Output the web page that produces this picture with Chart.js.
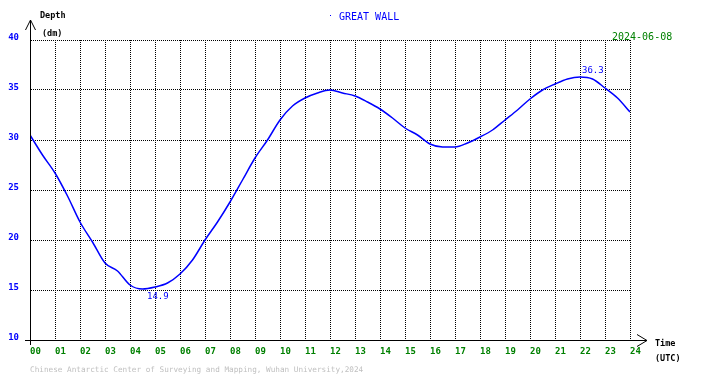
<!DOCTYPE html>
<html>
<head>
<meta charset="utf-8">
<script src="https://cdn.jsdelivr.net/npm/chart.js@4"></script>
<style>
  html, body { margin: 0; padding: 0; background: #fff; }
  #wrap { width: 710px; height: 378px; position: relative; }
</style>
</head>
<body>
<div id="wrap"><canvas id="tide"></canvas></div>
<script>
// tide gauge readings, every half hour
const hours = [0, 0.5, 1, 1.5, 2, 2.5, 3, 3.5, 4, 4.5, 5, 5.5, 6, 6.5, 7, 7.5, 8, 8.5,
  9, 9.5, 10, 10.5, 11, 11.5, 12, 12.5, 13, 13.5, 14, 14.5, 15, 15.5, 16, 16.5, 17,
  17.5, 18, 18.5, 19, 19.5, 20, 20.5, 21, 21.5, 22, 22.5, 23, 23.5, 24];
const depth = [30.5, 28.5, 26.7, 24.4, 21.8, 19.8, 17.7, 16.9, 15.5, 15.1, 15.3, 15.7,
  16.6, 18.0, 20.0, 21.8, 23.8, 26.0, 28.2, 30.0, 32.0, 33.4, 34.2, 34.7, 35.0, 34.7,
  34.4, 33.8, 33.1, 32.2, 31.2, 30.5, 29.6, 29.3, 29.3, 29.7, 30.3, 31.0, 32.0, 33.0,
  34.1, 35.0, 35.6, 36.1, 36.3, 36.1, 35.2, 34.2, 32.8];

// low / high water marks printed on the chart
const extremeHours = [4.6, 22.0];
const extremeValues = [14.9, 36.3];
const extremeBelow = [true, false];

const stationName = "GREAT WALL";
const dateLabel = "2024-06-08";
const footer = "Chinese Antarctic Center of Surveying and Mapping, Wuhan University,2024";

const BLUE = "rgb(0,0,255)";
const GREEN = "rgb(0,128,0)";
const MONO = "'DejaVu Sans Mono', monospace";

// axis arrows, labels and extreme values
const decorations = {
  id: "decorations",
  afterDraw(chart) {
    const { ctx, chartArea: a, scales } = chart;
    ctx.save();
    ctx.strokeStyle = "#000";
    ctx.lineWidth = 1;
    ctx.beginPath();
    // y axis extension + arrow
    ctx.moveTo(a.left + 0.5, a.bottom + 5);
    ctx.lineTo(a.left + 0.5, 20);
    ctx.moveTo(a.left - 4.5, 30);
    ctx.lineTo(a.left + 0.5, 20);
    ctx.lineTo(a.left + 5.5, 30);
    // x axis extension + arrow
    ctx.moveTo(a.left - 5, a.bottom + 0.5);
    ctx.lineTo(a.right + 17, a.bottom + 0.5);
    ctx.moveTo(a.right + 7, a.bottom - 5.5);
    ctx.lineTo(a.right + 17, a.bottom + 0.5);
    ctx.lineTo(a.right + 7, a.bottom + 6.5);
    ctx.stroke();

    ctx.textBaseline = "middle";
    ctx.textAlign = "left";
    ctx.fillStyle = "#000";
    ctx.font = "bold 8.5px " + MONO;
    ctx.fillText("Depth", 40, 16);
    ctx.fillText("(dm)", 42, 34);
    ctx.fillText("Time", 655, 344);
    ctx.fillText("(UTC)", 655, 359);

    ctx.fillStyle = BLUE;
    ctx.font = "10px " + MONO;
    ctx.fillText(stationName, 339, 17);
    ctx.fillRect(330, 15, 1, 1);

    ctx.fillStyle = GREEN;
    ctx.font = "10px " + MONO;
    ctx.fillText(dateLabel, 612, 37);

    ctx.fillStyle = "rgb(192,192,192)";
    ctx.font = "7.7px " + MONO;
    ctx.fillText(footer, 30, 370);

    ctx.fillStyle = BLUE;
    ctx.font = "9px " + MONO;
    extremeHours.forEach((h, i) => {
      const px = scales.x.getPixelForValue(h);
      const py = scales.y.getPixelForValue(extremeValues[i]);
      ctx.fillText(extremeValues[i].toFixed(1), px + 2, extremeBelow[i] ? py + 6 : py - 6);
    });
    ctx.restore();
  }
};

new Chart(document.getElementById("tide"), {
  type: "line",
  data: {
    labels: hours,
    datasets: [{
      data: hours.map((h, i) => ({ x: h, y: depth[i] })),
      borderColor: BLUE,
      borderWidth: 1.5,
      pointRadius: 0,
      fill: false,
      cubicInterpolationMode: "monotone"
    }]
  },
  options: {
    responsive: true,
    maintainAspectRatio: false,
    animation: false,
    layout: { padding: { left: 0, right: 80, top: 40, bottom: 0 } },
    plugins: {
      legend: { display: false },
      tooltip: { enabled: false }
    },
    scales: {
      x: {
        type: "linear",
        min: 0,
        max: 24,
        afterFit: (s) => { s.height = 38; },
        ticks: {
          stepSize: 1,
          autoSkip: false,
          maxRotation: 0,
          align: "start",
          padding: 6,
          color: GREEN,
          font: { family: MONO, size: 9, weight: "bold" },
          callback: (v) => String(v).padStart(2, "0")
        },
        grid: { color: "#000", lineWidth: 1, drawTicks: false },
        border: { color: "#000", width: 1, dash: [1, 1] }
      },
      y: {
        min: 10,
        max: 40,
        afterFit: (s) => { s.width = 30; },
        ticks: {
          stepSize: 5,
          padding: 11,
          labelOffset: -2,
          color: BLUE,
          font: { family: MONO, size: 9, weight: "bold" }
        },
        grid: { color: "#000", lineWidth: 1, drawTicks: false },
        border: { color: "#000", width: 1, dash: [1, 1] }
      }
    }
  },
  plugins: [decorations]
});
</script>
</body>
</html>
